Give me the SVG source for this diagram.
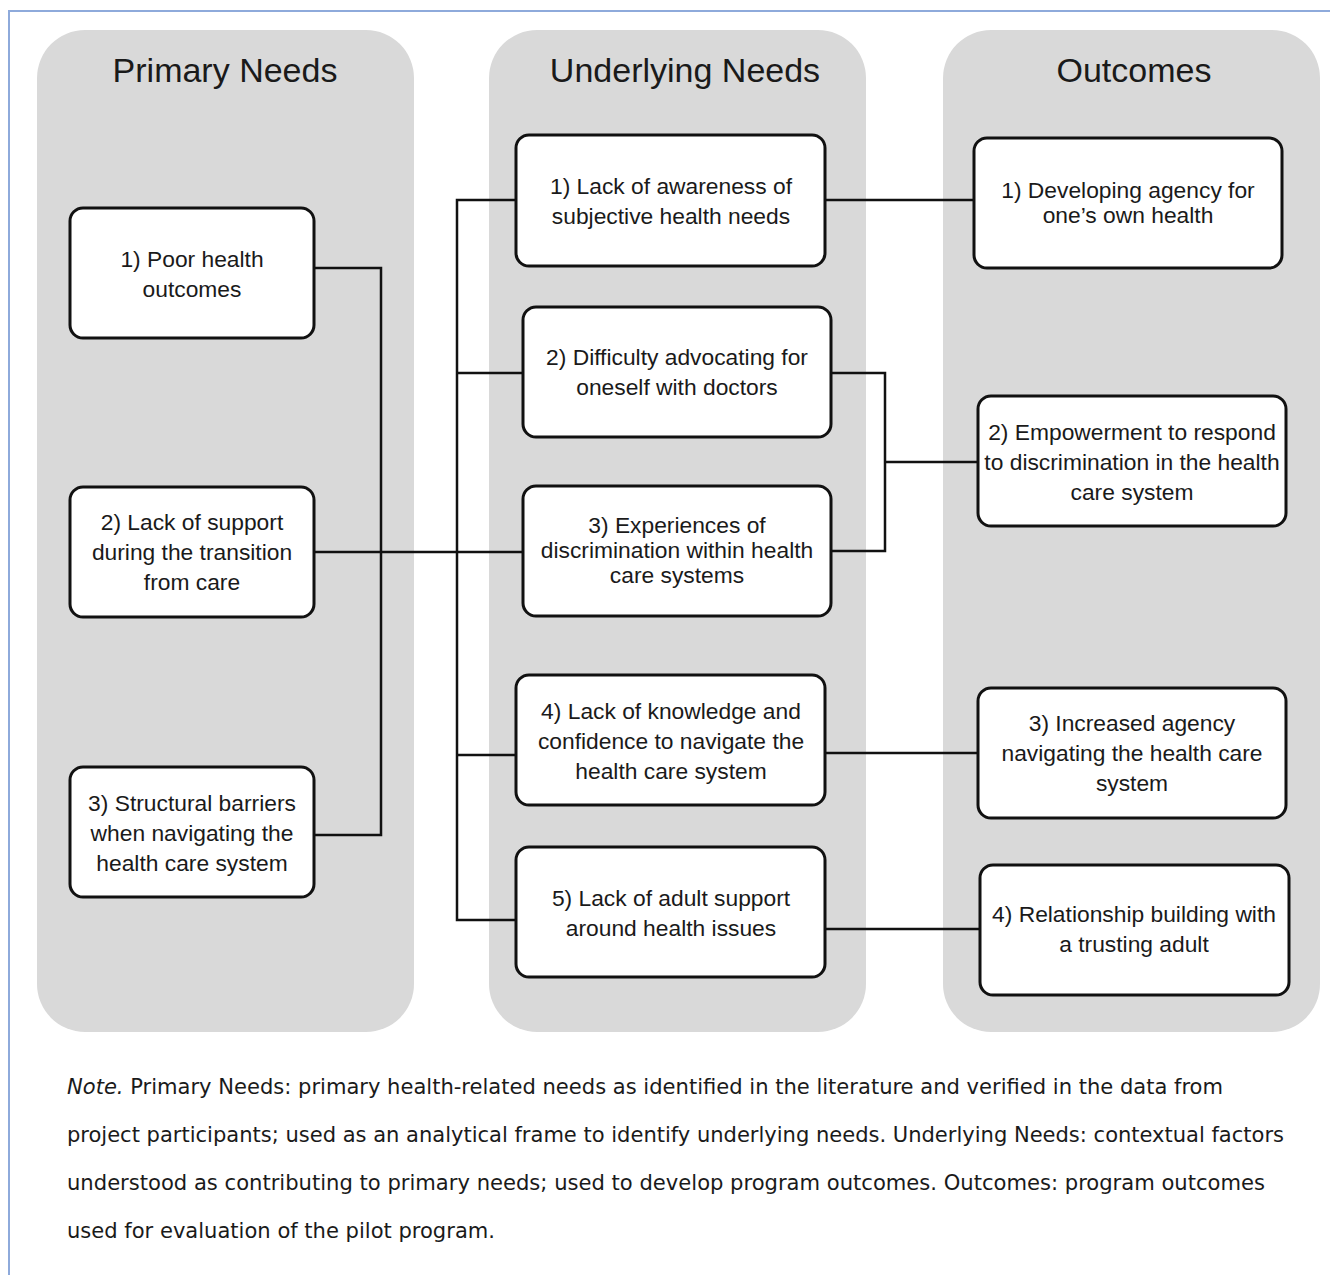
<svg xmlns="http://www.w3.org/2000/svg" width="1330" height="1275" viewBox="0 0 1330 1275">
<style>
.panel{fill:#d9d9d9;}
.node rect{fill:#fff;stroke:#111;stroke-width:3;}
.node text,.title{font-family:"Liberation Sans",Arial,sans-serif;fill:#1a1a1a;text-anchor:middle;}
.node text{font-size:22.8px;}
.title{font-size:34px;}
.conn{fill:none;stroke:#111;stroke-width:2.5;}
.note{font-family:"DejaVu Sans Condensed","DejaVu Sans",sans-serif;font-stretch:condensed;font-size:22px;fill:#1a1a1a;}
</style>
<rect width="1330" height="1275" fill="#fff"/>
<path d="M9,1275 V11 H1330" fill="none" stroke="#8eaadb" stroke-width="2"/>
<g id="panels">
<rect class="panel" x="37" y="30" width="377" height="1002" rx="48"/>
<rect class="panel" x="489" y="30" width="377" height="1002" rx="48"/>
<rect class="panel" x="943" y="30" width="377" height="1002" rx="48"/>
<text class="title" x="225" y="82">Primary Needs</text>
<text class="title" x="685" y="82">Underlying Needs</text>
<text class="title" x="1134" y="82">Outcomes</text>
</g>
<g id="connectors" class="conn">
<path d="M314,268 H381 V835 H314"/>
<path d="M314,552 H523"/>
<path d="M516,200 H457 V920 H516"/>
<path d="M457,373 H523"/>
<path d="M457,755 H516"/>
<path d="M825,200 H974"/>
<path d="M831,373 H885 V551 H831"/>
<path d="M885,462 H978"/>
<path d="M825,753 H978"/>
<path d="M825,929 H980"/>
</g>
<g id="p1" class="node"><rect x="70" y="208" width="244" height="130" rx="13"/><text x="192" y="267">1) Poor health</text><text x="192" y="297">outcomes</text></g>
<g id="p2" class="node"><rect x="70" y="487" width="244" height="130" rx="13"/><text x="192" y="530">2) Lack of support</text><text x="192" y="560">during the transition</text><text x="192" y="590">from care</text></g>
<g id="p3" class="node"><rect x="70" y="767" width="244" height="130" rx="13"/><text x="192" y="811">3) Structural barriers</text><text x="192" y="841">when navigating the</text><text x="192" y="871">health care system</text></g>
<g id="u1" class="node"><rect x="516" y="135" width="309" height="131" rx="13"/><text x="671" y="194">1) Lack of awareness of</text><text x="671" y="224">subjective health needs</text></g>
<g id="u2" class="node"><rect x="523" y="307" width="308" height="130" rx="13"/><text x="677" y="365">2) Difficulty advocating for</text><text x="677" y="395">oneself with doctors</text></g>
<g id="u3" class="node"><rect x="523" y="486" width="308" height="130" rx="13"/><text x="677" y="533">3) Experiences of</text><text x="677" y="558">discrimination within health</text><text x="677" y="583">care systems</text></g>
<g id="u4" class="node"><rect x="516" y="675" width="309" height="130" rx="13"/><text x="671" y="719">4) Lack of knowledge and</text><text x="671" y="749">confidence to navigate the</text><text x="671" y="779">health care system</text></g>
<g id="u5" class="node"><rect x="516" y="847" width="309" height="130" rx="13"/><text x="671" y="906">5) Lack of adult support</text><text x="671" y="936">around health issues</text></g>
<g id="o1" class="node"><rect x="974" y="138" width="308" height="130" rx="13"/><text x="1128" y="198">1) Developing agency for</text><text x="1128" y="223">one’s own health</text></g>
<g id="o2" class="node"><rect x="978" y="396" width="308" height="130" rx="13"/><text x="1132" y="440">2) Empowerment to respond</text><text x="1132" y="470">to discrimination in the health</text><text x="1132" y="500">care system</text></g>
<g id="o3" class="node"><rect x="978" y="688" width="308" height="130" rx="13"/><text x="1132" y="731">3) Increased agency</text><text x="1132" y="761">navigating the health care</text><text x="1132" y="791">system</text></g>
<g id="o4" class="node"><rect x="980" y="865" width="309" height="130" rx="13"/><text x="1134" y="922">4) Relationship building with</text><text x="1134" y="952">a trusting adult</text></g>
<g id="note">
<text class="note" x="67" y="1094" textLength="1156" lengthAdjust="spacingAndGlyphs"><tspan font-style="italic">Note.</tspan> Primary Needs: primary health-related needs as identified in the literature and verified in the data from</text>
<text class="note" x="67" y="1142" textLength="1217" lengthAdjust="spacingAndGlyphs">project participants; used as an analytical frame to identify underlying needs. Underlying Needs: contextual factors</text>
<text class="note" x="67" y="1190" textLength="1198" lengthAdjust="spacingAndGlyphs">understood as contributing to primary needs; used to develop program outcomes. Outcomes: program outcomes</text>
<text class="note" x="67" y="1238" textLength="428" lengthAdjust="spacingAndGlyphs">used for evaluation of the pilot program.</text>
</g>
</svg>
